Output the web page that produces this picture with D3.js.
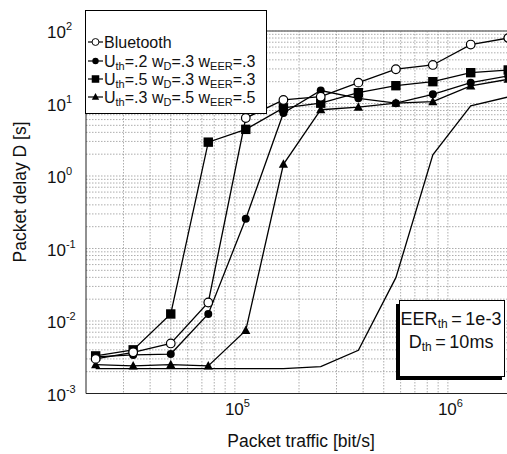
<!DOCTYPE html>
<html><head><meta charset="utf-8">
<script src="https://cdn.jsdelivr.net/npm/d3@7"></script>
<style>body{margin:0;background:#fff}svg{display:block;font-family:"Liberation Sans",Arial,sans-serif}</style>
</head><body>
<svg id="c" width="507" height="454"></svg>
<script>
const traffic = [2.22e4, 3.33e4, 5e4, 7.5e4, 1.125e5, 1.69e5, 2.53e5, 3.8e5, 5.7e5, 8.5e5, 1.28e6, 1.92e6];
const bluetooth = [3.0e-3, 3.7e-3, 4.9e-3, 1.8e-2, 6.3, 11.2, 12.4, 19.4, 29.7, 34, 65, 80];
const uth2 = [3.2e-3, 3.4e-3, 3.5e-3, 1.25e-2, 0.257, 7.4, 15.1, 11.8, 10.1, 13.4, 19.4, 24];
const uth5 = [3.3e-3, 4.0e-3, 1.25e-2, 2.93, 4.4, 8.7, 10.1, 14.1, 17.6, 20, 26.6, 29];
const uth3 = [2.5e-3, 2.4e-3, 2.5e-3, 2.4e-3, 7.4e-3, 1.45, 8.2, 8.9, 10.1, 10.6, 17.5, 21.6];
const noMarker = [2.2e-3, 2.2e-3, 2.2e-3, 2.2e-3, 2.2e-3, 2.2e-3, 2.35e-3, 3.95e-3, 3.96e-2, 1.96, 9.3, 12.3];
const xTickExps = [5, 6];
const yTickExps = [-3, -2, -1, 0, 1, 2];
const legendNames = [
  [["Bluetooth",""]],
  [["U","th","=.2 "],["w","D","=.3 "],["w","EER","=.3"]],
  [["U","th","=.5 "],["w","D","=.3 "],["w","EER","=.3"]],
  [["U","th","=.3 "],["w","D","=.5 "],["w","EER","=.5"]]
];
const series = [
  {vals: bluetooth, marker: "openCircle"},
  {vals: uth2, marker: "circle"},
  {vals: uth5, marker: "square"},
  {vals: uth3, marker: "triangle"},
  {vals: noMarker, marker: null}
];

const svg = d3.select("#c");
const x = d3.scaleLog().domain([2e4, 2e6]).range([86, 512]);
const y = d3.scaleLog().domain([1e-3, 1e2]).range([393.5, 31]);

// grid
const xGrid = [];
for (let e = 4; e <= 6; e++) for (let m = 1; m <= 9; m++) { const v = m * Math.pow(10, e); if (v > 2e4 && v <= 2e6) xGrid.push(v); }
const yGrid = [];
for (let e = -3; e <= 1; e++) for (let m = 1; m <= 9; m++) { const v = m * Math.pow(10, e); if (v > 1e-3) yGrid.push(v); }
yGrid.push(100);
const g = svg.append("g");
g.selectAll(".gx").data(xGrid).join("line")
  .attr("x1", d => x(d)).attr("x2", d => x(d)).attr("y1", 31).attr("y2", 393.5)
  .attr("stroke", "#8a8a8a").attr("stroke-width", 0.7).attr("stroke-dasharray", "1.5,1.5");
g.selectAll(".gy").data(yGrid).join("line")
  .attr("y1", d => y(d)).attr("y2", d => y(d)).attr("x1", 86).attr("x2", 512)
  .attr("stroke", "#8a8a8a").attr("stroke-width", 0.7).attr("stroke-dasharray", "1.5,1.5");

// frame
svg.append("line").attr("x1", 86).attr("x2", 512).attr("y1", 31).attr("y2", 31).attr("stroke", "#777").attr("stroke-width", 1.5);
svg.append("line").attr("x1", 86).attr("x2", 86).attr("y1", 31).attr("y2", 393.5).attr("stroke", "#222").attr("stroke-width", 1);
svg.append("line").attr("x1", 86).attr("x2", 512).attr("y1", 393.5).attr("y2", 393.5).attr("stroke", "#222").attr("stroke-width", 1);

// tick labels
const xt = svg.append("g").attr("font-size", 17).attr("fill", "#111");
xTickExps.forEach(e => {
  const t = xt.append("text").attr("x", x(Math.pow(10, e)) - 10).attr("y", 415);
  t.append("tspan").text("10");
  t.append("tspan").attr("font-size", 11).attr("dy", -8).text(e);
});
yTickExps.forEach(e => {
  const t = xt.append("text").attr("x", 47).attr("y", y(Math.pow(10, e)) + 7);
  t.append("tspan").text("10");
  t.append("tspan").attr("font-size", 11).attr("dy", -8).text(e);
});

// axis titles
svg.append("text").attr("x", 301).attr("y", 447).attr("text-anchor", "middle").attr("font-size", 17.5).attr("fill", "#111").text("Packet traffic [bit/s]");
svg.append("text").attr("transform", "translate(26,192) rotate(-90)").attr("text-anchor", "middle").attr("font-size", 17.5).attr("fill", "#111").text("Packet delay D [s]");

// lines
const line = d3.line().x((d, i) => x(traffic[i])).y(d => y(d));
svg.append("clipPath").attr("id", "pc").append("rect").attr("x", 86).attr("y", 25).attr("width", 430).attr("height", 370);
const plot = svg.append("g").attr("clip-path", "url(#pc)");
function drawMarker(sel, type, cx, cy) {
  if (type === "openCircle") sel.append("circle").attr("cx", cx).attr("cy", cy).attr("r", 4.3).attr("fill", "#fff").attr("stroke", "#000").attr("stroke-width", 1.2);
  else if (type === "circle") sel.append("circle").attr("cx", cx).attr("cy", cy).attr("r", 4).attr("fill", "#000");
  else if (type === "square") sel.append("rect").attr("x", cx - 4.7).attr("y", cy - 4.7).attr("width", 9.4).attr("height", 9.4).attr("fill", "#000");
  else if (type === "triangle") sel.append("path").attr("d", `M${cx},${cy - 5}L${cx + 4.6},${cy + 3.5}L${cx - 4.6},${cy + 3.5}Z`).attr("fill", "#000");
}
series.slice().reverse().forEach(s => {
  plot.append("path").attr("d", line(s.vals)).attr("fill", "none").attr("stroke", "#000").attr("stroke-width", 1.3);
});
series.slice().reverse().forEach(s => {
  if (!s.marker) return;
  s.vals.forEach((v, i) => drawMarker(plot, s.marker, x(traffic[i]), y(v)));
});

// legend
const lg = svg.append("g");
lg.append("rect").attr("x", 85.5).attr("y", 10.5).attr("width", 181).attr("height", 103).attr("fill", "#fff").attr("stroke", "#000").attr("stroke-width", 1);
const rowY = [42, 61, 79, 97];
legendNames.forEach((parts, i) => {
  const yy = rowY[i];
  lg.append("line").attr("x1", 88).attr("x2", 103).attr("y1", yy).attr("y2", yy).attr("stroke", "#000").attr("stroke-width", 1.2);
  const mk = series[i].marker;
  const ms = lg.append("g").attr("transform", `translate(${95.5},${yy}) scale(0.8)`);
  drawMarker(ms, mk, 0, 0);
  const t = lg.append("text").attr("x", 104).attr("y", yy + 5.5).attr("font-size", 16).attr("fill", "#111");
  parts.forEach(p => {
    t.append("tspan").text(p[0]);
    if (p[1]) {
      t.append("tspan").attr("font-size", 11).attr("dy", 3).text(p[1]);
      t.append("tspan").attr("dy", -3).text(p[2]);
    }
  });
});

// annotation box
const ab = svg.append("g");
ab.append("rect").attr("x", 396).attr("y", 304).attr("width", 106).attr("height", 76).attr("fill", "#000");
ab.append("rect").attr("x", 399.5).attr("y", 300.5).attr("width", 105).attr("height", 76).attr("fill", "#fff").attr("stroke", "#000").attr("stroke-width", 1);
const a1 = ab.append("text").attr("x", 451).attr("y", 325).attr("text-anchor", "middle").attr("font-size", 18).attr("fill", "#111");
a1.append("tspan").text("EER");
a1.append("tspan").attr("font-size", 12).attr("dy", 3).text("th");
a1.append("tspan").attr("dy", -3).text("\u2009=\u20091e-3");
const a2 = ab.append("text").attr("x", 451).attr("y", 348).attr("text-anchor", "middle").attr("font-size", 18).attr("fill", "#111");
a2.append("tspan").text("D");
a2.append("tspan").attr("font-size", 12).attr("dy", 3).text("th");
a2.append("tspan").attr("dy", -3).text("\u2009=\u200910ms");
</script>
</body></html>
